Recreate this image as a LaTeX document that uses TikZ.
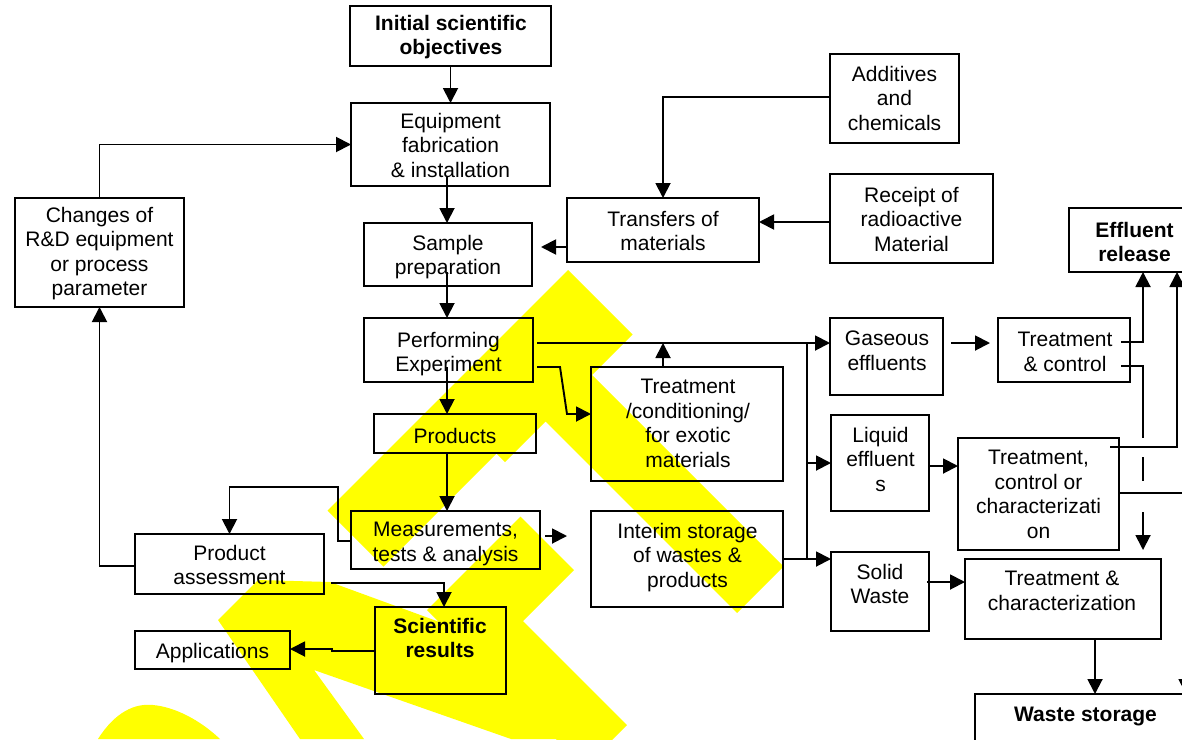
\documentclass[tikz,border=0pt]{standalone}
\usepackage{fontspec}
\setmainfont{Liberation Sans}
\usetikzlibrary{arrows.meta}
\definecolor{wm}{RGB}{255,255,0}
\newcommand\mybox[5]{\node[box,minimum width={(#4-#2)*1pt},minimum height={(#5-#3)*1pt}] (#1) at ({(#2+#4)/2},{(#3+#5)/2}) {};}
\begin{document}
\begin{tikzpicture}[x=1pt,y=-1pt,
  box/.style={draw,line width=1.9pt,inner sep=0pt,outer sep=0pt},
  txt/.style={anchor=north,align=center,inner sep=0pt,font=\fontsize{21}{24.5}\selectfont},
  btxt/.style={txt,font=\fontsize{21}{24.5}\selectfont\bfseries},
  con/.style={line width=1.9pt},
  arr/.style={con,-{Triangle[length=15pt,width=15pt]}}]
\useasboundingbox (0,0) rectangle (1182,739);
\begin{scope}
\clip (0,0) rectangle (1182,739);
% watermark
\fill[wm] (568,270) -- (632.5,334.5) -- (592,375) -- (783.5,566.5) -- (737,613) -- (545.5,421.5) -- (505,462) -- (496.5,453.5) -- (383.5,566.5) -- (327.5,510.5) -- cycle;
\fill[wm] (520.5,516.5) -- (574,570) -- (523,621) -- (627,725) -- (584.5,767.5) -- (427,610) -- cycle;
\fill[wm] (218,620) -- (258,580) -- (330,582) -- (445,624) -- (560,739) -- (511,739) -- (314,670) -- (364,739) -- (300,739) -- cycle;
\fill[wm] (98,739) .. controls (115,712) and (135,703) .. (153,705) .. controls (175,707) and (200,720) .. (220,739) -- cycle;

% boxes
\mybox{init}{350}{6}{551}{66}
\mybox{equip}{351}{103}{550}{186}
\mybox{sample}{364}{223}{532}{286}
\mybox{perform}{364}{318}{533}{382}
\mybox{changes}{15}{198}{184}{307}
\mybox{additives}{830}{54}{959}{143}
\mybox{receipt}{830}{174}{993}{263}
\mybox{transfers}{567}{198}{759}{262}
\mybox{effluent}{1069}{208}{1200}{272}
\mybox{gaseous}{830}{318}{943}{395}
\mybox{tcontrol}{998}{318}{1130}{382}
\mybox{products}{374}{414}{536}{453}
\mybox{tcond}{591}{367}{783}{481}
\mybox{liquid}{831}{415}{929}{511}
\mybox{tcc}{958}{438}{1119}{550}
\mybox{meas}{351}{511}{540}{569}
\mybox{interim}{591}{511}{783}{607}
\mybox{passess}{135}{534}{324}{594}
\mybox{solid}{831}{552}{929}{631}
\mybox{tchar}{965}{559}{1161}{639}
\mybox{sci}{375}{607}{506}{694}
\mybox{apps}{135}{631}{290}{669}
\mybox{waste}{975}{694}{1196}{780}

% texts
\node[btxt] (t-init) at (451,15) {Initial scientific\\objectives};
\node[txt] (t-equip) at (450.5,113) {Equipment\\fabrication\\\& installation};
\node[txt] (t-sample) at (448,235) {Sample\\preparation};
\node[txt] (t-perform) at (448.5,332) {Performing\\Experiment};
\node[txt] (t-changes) at (99.5,207) {Changes of\\R\&D equipment\\or process\\parameter};
\node[txt] (t-additives) at (894.5,66) {Additives\\and\\chemicals};
\node[txt] (t-receipt) at (911.5,187) {Receipt of\\radioactive\\Material};
\node[txt] (t-transfers) at (663,211) {Transfers of\\materials};
\node[btxt] (t-effluent) at (1134.5,222) {Effluent\\release};
\node[txt] (t-gaseous) at (887,331) {Gaseous\\effluents};
\node[txt] (t-tcontrol) at (1065,332) {Treatment\\\& control};
\node[txt] (t-products) at (455,428) {Products};
\node[txt] (t-tcond) at (688,379) {Treatment\\/conditioning/\\for exotic\\materials};
\node[txt] (t-liquid) at (880.5,427) {Liquid\\effluent\\s};
\node[txt] (t-tcc) at (1038.5,450) {Treatment,\\control or\\characterizati\\on};
\node[txt] (t-meas) at (445.5,522) {Measurements,\\tests \& analysis};
\node[txt] (t-interim) at (687.5,523) {Interim storage\\of wastes \&\\products};
\node[txt] (t-passess) at (229.5,545) {Product\\assessment};
\node[txt] (t-solid) at (880,564) {Solid\\Waste};
\node[txt] (t-tchar) at (1062,571) {Treatment \&\\characterization};
\node[btxt] (t-sci) at (440,618) {Scientific\\results};
\node[txt] (t-apps) at (212.5,643) {Applications};
\node[btxt] (t-waste) at (1085.5,707) {Waste storage};

% connectors
\draw[arr] (init.south) -- (equip.north);
\draw[arr] ([xshift=-3.5pt,yshift=9pt]equip.south) -- ([xshift=-1pt]sample.north);
\draw[arr] ([xshift=-1pt,yshift=14pt]sample.south) -- ([xshift=-1.5pt]perform.north);
\draw[arr] ([xshift=-1.5pt,yshift=15pt]perform.south) -- ([xshift=-8pt]products.north);
\draw[arr] ([xshift=-8pt]products.south) -- ([xshift=1.5pt]meas.north);
\draw[arr,shorten >=9pt] ([yshift=-17pt]transfers.west) -- ([yshift=7.5pt]sample.east);
\draw[arr] ([yshift=1.5pt]additives.west) -| (transfers.north);
\draw[arr] ([yshift=-3.5pt]receipt.west) -- ([yshift=8pt]transfers.east);
\draw[arr] (changes.north) |- (equip.west);
\draw[arr] ([yshift=-2pt]passess.west) -| (changes.south);
\draw[arr] ([yshift=-1pt]meas.west) -- ++(-13,0) -- ++(0,-54) -| (passess.north);
\draw[arr] ([xshift=7pt,yshift=-19pt]passess.east) -| ([xshift=3.5pt]sci.north);
\draw[arr] ([yshift=-0.5pt]sci.west) -- ++(-43,0) -- ++(0,-2) -- ([yshift=1pt]apps.east);
\coordinate (mout) at (567,536);
\draw[arr] ([xshift=5pt,yshift=4pt]meas.east) -- (mout);
\draw[arr] ([xshift=4pt,yshift=7pt]perform.east) -- ([yshift=13.5pt]gaseous.west);
\draw[arr] ([xshift=4pt,yshift=-17pt]perform.east) -- ++(23,0) -- ++(7,47) -- ([yshift=10pt]tcond.west);
\coordinate (tup) at (663,343);
\draw[arr] ([xshift=-24pt]tcond.north) -- (tup);
\coordinate (bt) at (807,343);
\coordinate (bb) at (807,559);
\draw[con] (bt) -- (bb);
\draw[arr] (bt |- liquid.west) -- (liquid.west);
\draw[arr] (interim.east) -- (interim.east -| solid.west);
\draw[arr] ([xshift=8pt,yshift=13.5pt]gaseous.east) -- ([xshift=-8pt,yshift=7pt]tcontrol.west);
\draw[arr] ([yshift=-3pt]liquid.east) -- ([yshift=28pt]tcc.west);
\draw[arr] ([xshift=-2pt,yshift=9.5pt]solid.east) -- ([yshift=17pt]tchar.west);
\draw[arr] ([xshift=-9pt,yshift=8pt]tcontrol.east) -| ([xshift=8.5pt]effluent.south);
\draw[con] ([xshift=-9pt,yshift=-16pt]tcontrol.east) -- ++(22,0) -- ++(0,72);
\coordinate (d1) at (1143,457);
\coordinate (d2) at (1143,481);
\coordinate (d3) at (1143,512);
\draw[con] (d1) -- (d2);
\draw[arr] (d3) -- ([xshift=80pt,yshift=9pt]tchar.north);
\draw[arr] ([xshift=-9pt,yshift=47pt]tcc.east) -| ([xshift=42.5pt]effluent.south);
\draw[arr] ([yshift=1pt]tcc.east) -| ([xshift=100.5pt]waste.north);
\draw[arr] ([xshift=32pt]tchar.south) -- ([xshift=9.5pt]waste.north);
\end{scope}
\end{tikzpicture}
\end{document}
